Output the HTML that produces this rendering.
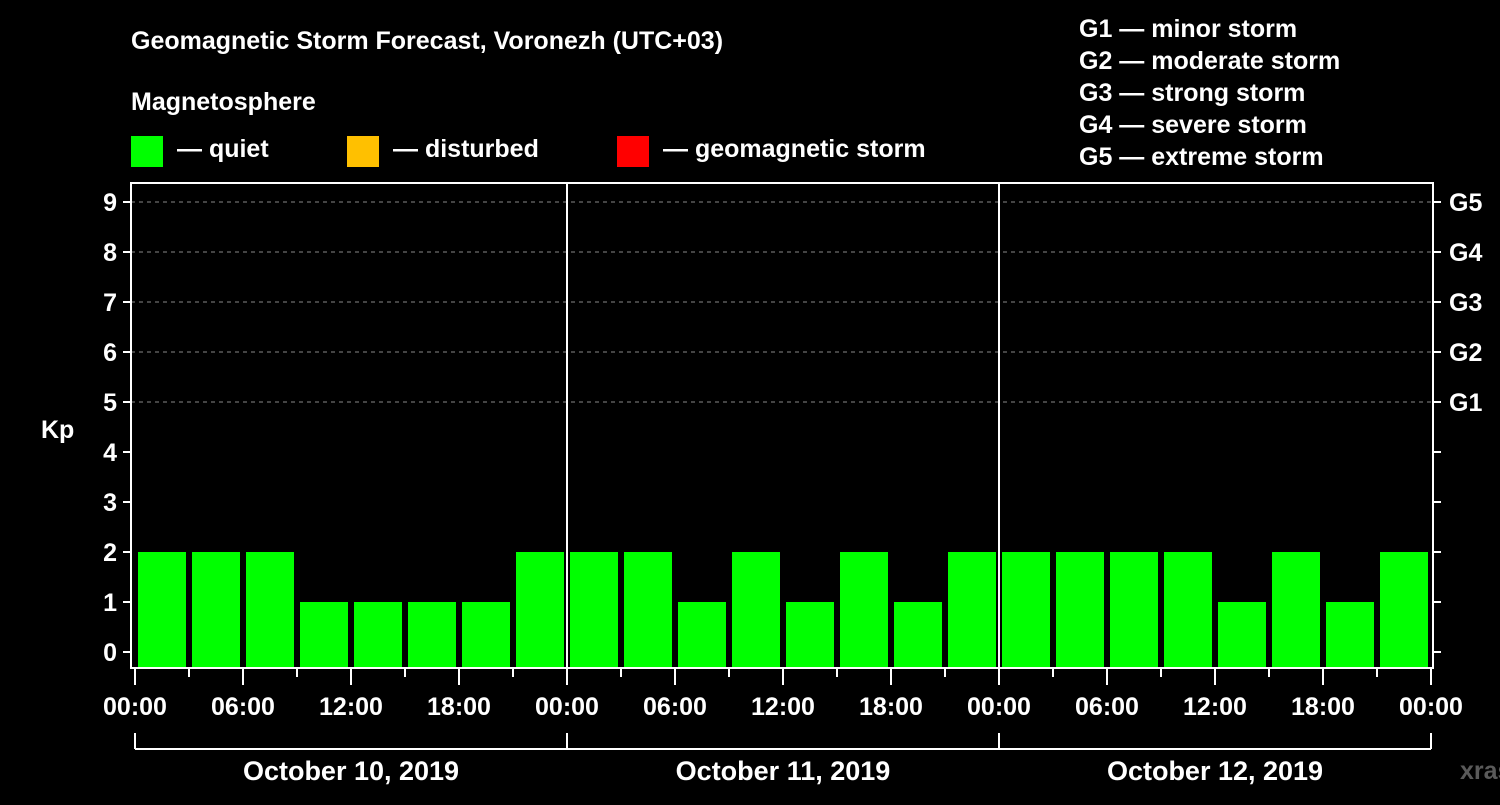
<!DOCTYPE html>
<html><head><meta charset="utf-8"><style>
body{margin:0;background:#000;width:1500px;height:800px;overflow:hidden;font-family:"Liberation Sans",Arial,sans-serif}
svg text{font-family:"Liberation Sans",Arial,sans-serif;font-weight:bold;fill:#fff}
</style></head><body>
<svg id="c" width="1500" height="800">
<text x="131" y="49" font-size="25">Geomagnetic Storm Forecast, Voronezh (UTC+03)</text>
<text x="131" y="110" font-size="25">Magnetosphere</text>
<g><rect x="131" y="136" width="32" height="31" fill="#00ff00"/><text x="177" y="157" font-size="25">— quiet</text></g>
<g><rect x="347" y="136" width="32" height="31" fill="#ffc000"/><text x="393" y="157" font-size="25">— disturbed</text></g>
<g><rect x="617" y="136" width="32" height="31" fill="#ff0000"/><text x="663" y="157" font-size="25">— geomagnetic storm</text></g>
<g font-size="25">
<text x="1079" y="37">G1 — minor storm</text>
<text x="1079" y="69">G2 — moderate storm</text>
<text x="1079" y="101">G3 — strong storm</text>
<text x="1079" y="133">G4 — severe storm</text>
<text x="1079" y="165">G5 — extreme storm</text>
</g>
<text x="41" y="438" font-size="25">Kp</text>
<text x="1460" y="779" font-size="25" fill="#666" style="fill:#5a5a5a">xras.ru</text>
<g id="plot"></g>
</svg>
<script>
const days=["October 10, 2019","October 11, 2019","October 12, 2019"];
const kpValues=[2,2,2,1,1,1,1,2, 2,2,1,2,1,2,1,2, 2,2,2,2,1,2,1,2];
const yTicks=[0,1,2,3,4,5,6,7,8,9];
const gLabels=["G1","G2","G3","G4","G5"];
const xTickLabels=["00:00","06:00","12:00","18:00"];
const L=131,R=1433,T=183,B=668,X0=135,DAYW=432;
const y=v=>652-50*v;
const x=h=>X0+h*DAYW/24;
const ns="http://www.w3.org/2000/svg",g=document.getElementById('plot');
function mk(t,a){const e=document.createElementNS(ns,t);for(const k in a)e.setAttribute(k,a[k]);g.appendChild(e);return e;}
// grid
for(let v=5;v<=9;v++){const e=mk('line',{x1:L,x2:R,y1:y(v),y2:y(v),stroke:'#888','stroke-dasharray':'4,4','stroke-width':1});

}
// bars
kpValues.forEach((v,i)=>{const x1=x(i*3)+3,x2=x(i*3+3)-3;
const col=v>=5?'#ff0000':(v>=4?'#ffc000':'#00ff00');
const e=mk('rect',{x:x1,y:y(v),width:x2-x1,height:B-y(v),fill:col});

});
// day separators
for(let d=1;d<days.length;d++){const e=mk('line',{x1:x(d*24),x2:x(d*24),y1:T,y2:B,stroke:'#fff','stroke-width':2});

}
// frame
const fr=mk('rect',{x:L,y:T,width:R-L,height:B-T,fill:'none',stroke:'#fff','stroke-width':2});


// y ticks
yTicks.forEach(v=>{mk('line',{x1:L-8,x2:L,y1:y(v),y2:y(v),stroke:'#fff','stroke-width':2});
mk('line',{x1:R,x2:R+8,y1:y(v),y2:y(v),stroke:'#fff','stroke-width':2});
const t=mk('text',{x:L-14,y:y(v)+9,'font-size':25,'text-anchor':'end'});t.textContent=v;

});
gLabels.forEach((s,i)=>{const t=mk('text',{x:1449,y:y(5+i)+9,'font-size':25});t.textContent=s;

});
// x ticks
for(let h=0;h<=72;h+=3){const major=h%6===0;
mk('line',{x1:x(h),x2:x(h),y1:B,y2:B+(major?17:9),stroke:'#fff','stroke-width':2});
if(major){const t=mk('text',{x:x(h),y:715,'font-size':25,'text-anchor':'middle'});t.textContent=xTickLabels[(h%24)/6];

}}
// day brackets
mk('line',{x1:x(0),x2:x(72),y1:749,y2:749,stroke:'#fff','stroke-width':2});
for(let d=0;d<=days.length;d++)mk('line',{x1:x(d*24),x2:x(d*24),y1:733,y2:749,stroke:'#fff','stroke-width':2});
days.forEach((s,d)=>{const t=mk('text',{x:x(d*24+12),y:780,'font-size':27,'text-anchor':'middle'});t.textContent=s;

});
</script>
</body></html>
